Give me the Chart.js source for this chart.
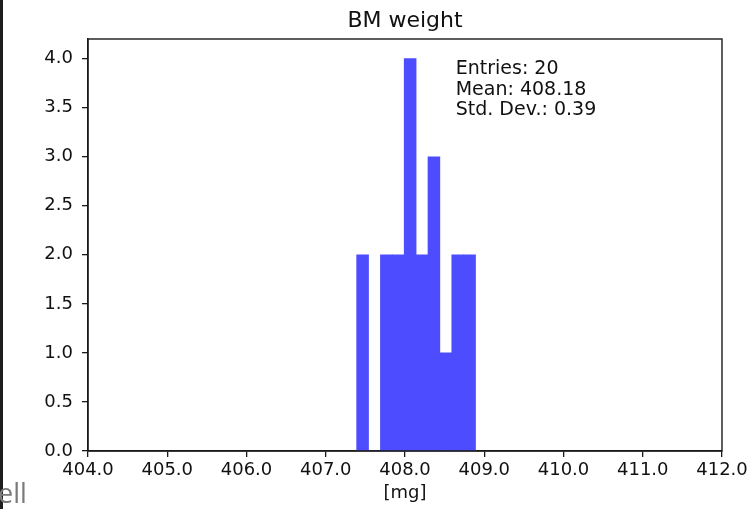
<!DOCTYPE html>
<html>
<head>
<meta charset="utf-8">
<script src="https://cdn.jsdelivr.net/npm/chart.js@4.4.1/dist/chart.umd.min.js"></script>
<style>
  html, body { margin: 0; padding: 0; background: #fff; }
  #wrap { position: relative; width: 753px; height: 509px; overflow: hidden; }
  #edge { position: absolute; left: 0; top: 0; width: 3px; height: 509px; background: #1e1e1e; }
  #tab { position: absolute; left: -2px; top: 474px; font-family: "Open Sans", sans-serif; font-size: 27px; color: #7a7a7a; }
</style>
</head>
<body>
<div id="wrap">
  <canvas id="myChart" width="753" height="509"></canvas>
  <div id="edge"></div>
  <div id="tab">ell</div>
</div>
<script>
// histogram bins (lower/upper edges) and counts per bin
const binLow  = [407.39, 407.54, 407.69, 407.84, 407.99, 408.14, 408.29, 408.44, 408.59, 408.74];
const binHigh = [407.54, 407.69, 407.84, 407.99, 408.14, 408.29, 408.44, 408.59, 408.74, 408.89];
const counts  = [2, 0, 2, 2, 4, 2, 3, 1, 2, 2];

// summary numbers shown in the corner
const entries = 20;
const mean = 408.18;
const stdDev = 0.39;

const xTicks = [404, 405, 406, 407, 408, 409, 410, 411, 412];
const yTicks = [0, 0.5, 1, 1.5, 2, 2.5, 3, 3.5, 4];

const font = "'DejaVu Sans', sans-serif";

// bars sit on the bin centers
const points = counts.map((c, i) => ({ x: (binLow[i] + binHigh[i]) / 2, y: c }));

// box around the plot, title over the plot, stats text
const framePlugin = {
    id: 'frame',
    afterDraw(chart) {
        const ctx = chart.ctx;
        const a = chart.chartArea;
        ctx.save();
        ctx.strokeStyle = '#1a1a1a';
        ctx.lineWidth = 1.4;
        ctx.strokeRect(a.left, a.top, a.right - a.left, a.bottom - a.top);

        ctx.fillStyle = '#111';
        ctx.textBaseline = 'alphabetic';
        ctx.textAlign = 'center';
        ctx.font = '22px ' + font;
        ctx.fillText('BM weight', (a.left + a.right) / 2, 27);

        ctx.font = '19px ' + font;
        ctx.textAlign = 'left';
        const tx = a.left + 0.58 * (a.right - a.left);
        const lines = ['Entries: ' + entries, 'Mean: ' + mean.toFixed(2), 'Std. Dev.: ' + stdDev.toFixed(2)];
        lines.forEach((t, i) => ctx.fillText(t, tx, a.top + 35 + i * 20.5));
        ctx.restore();
    }
};

const ctx = document.getElementById('myChart').getContext('2d');
const myChart = new Chart(ctx, {
    type: 'bar',
    data: {
        datasets: [{
            label: 'BM weight',
            data: points,
            backgroundColor: '#4d4dff',
            borderWidth: 0,
            barPercentage: 1.0,
            categoryPercentage: 1.0
        }]
    },
    options: {
        responsive: false,
        animation: false,
        layout: { padding: { left: 0, right: 31, top: 39, bottom: 0 } },
        plugins: {
            legend: { display: false },
            tooltip: { enabled: false },
            title: { display: false }
        },
        scales: {
            x: {
                type: 'linear',
                offset: false,
                min: 404,
                max: 412,
                afterBuildTicks: (scale) => { scale.ticks = xTicks.map(v => ({ value: v })); },
                afterFit: (scale) => { scale.height = 58; },
                grid: { offset: false, drawOnChartArea: false, drawTicks: true, tickLength: 6, color: '#1a1a1a', lineWidth: 1.3 },
                border: { display: true, color: '#1a1a1a', width: 1.4 },
                ticks: {
                    color: '#111',
                    padding: 3,
                    maxRotation: 0,
                    font: { family: font, size: 18 },
                    callback: (v) => Number(v).toFixed(1)
                },
                title: {
                    display: true,
                    text: '[mg]',
                    color: '#111',
                    font: { family: font, size: 18 },
                    padding: { top: 0, bottom: 5 }
                }
            },
            y: {
                min: 0,
                max: 4.2,
                afterBuildTicks: (scale) => { scale.ticks = yTicks.map(v => ({ value: v })); },
                afterFit: (scale) => { scale.width = 88; },
                grid: { drawOnChartArea: false, drawTicks: true, tickLength: 6, color: '#1a1a1a', lineWidth: 1.3 },
                border: { display: true, color: '#1a1a1a', width: 1.4 },
                ticks: {
                    color: '#111',
                    padding: 9,
                    font: { family: font, size: 18 },
                    callback: (v) => Number(v).toFixed(1)
                }
            }
        }
    },
    plugins: [framePlugin]
});
</script>
</body>
</html>
